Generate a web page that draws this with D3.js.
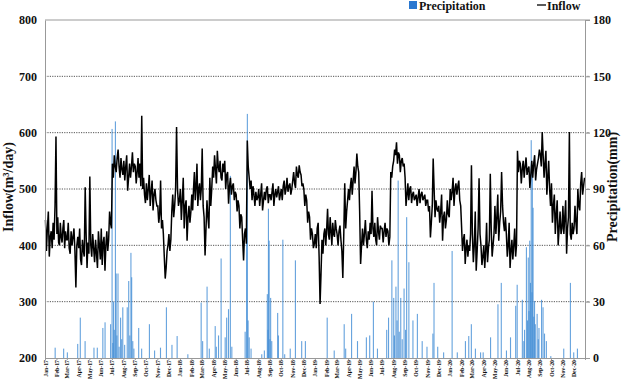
<!DOCTYPE html>
<html>
<head>
<meta charset="utf-8">
<script src="https://cdn.jsdelivr.net/npm/d3@7"></script>
<style>
  body { margin: 0; background: #fff; }
  text { font-family: "Liberation Serif", "Times New Roman", serif; font-weight: bold; }
</style>
</head>
<body>
<svg id="chart" width="627" height="379"></svg>
<script>
// ---- data ----
const inflowTicks = [200, 300, 400, 500, 600, 700, 800];
const precipTicks = [0, 30, 60, 90, 120, 150, 180];

// inflow samples, 12 per month (m3/day)
const inflow2017 = [
  [445, 390, 430, 460, 380, 415, 425, 395, 440, 410, 470, 593],
  [420, 450, 405, 400, 440, 415, 405, 430, 445, 395, 425, 410],
  [410, 440, 395, 385, 425, 400, 415, 430, 390, 325, 400, 415],
  [395, 430, 375, 365, 410, 390, 380, 503, 420, 360, 405, 385],
  [522, 400, 380, 420, 395, 370, 410, 385, 360, 425, 400, 375],
  [430, 365, 405, 415, 355, 400, 425, 390, 410, 460, 440, 430],
  [545, 520, 560, 540, 530, 555, 570, 540, 520, 555, 535, 525],
  [550, 515, 540, 560, 497, 520, 545, 520, 540, 565, 530, 545],
  [540, 510, 530, 555, 520, 545, 505, 630, 500, 520, 490, 475],
  [510, 480, 500, 525, 470, 495, 515, 462, 490, 500, 480, 470],
  [470, 440, 455, 515, 430, 445, 420, 380, 341, 360, 390, 400],
  [420, 390, 410, 460, 490, 450, 470, 500, 610, 500, 470, 480]
];
const inflow2018 = [
  [500, 445, 480, 520, 430, 470, 480, 408, 450, 470, 440, 460],
  [490, 462, 500, 530, 480, 505, 545, 470, 500, 510, 480, 500],
  [572, 470, 450, 382, 430, 480, 450, 430, 520, 470, 500, 540],
  [520, 560, 535, 510, 568, 540, 530, 550, 520, 515, 545, 530],
  [550, 500, 525, 530, 474, 505, 520, 490, 505, 510, 480, 495],
  [490, 460, 480, 470, 430, 455, 450, 410, 373, 420, 430, 403],
  [586, 540, 520, 500, 515, 480, 505, 490, 470, 495, 480, 485],
  [500, 470, 490, 510, 462, 480, 495, 480, 500, 505, 475, 490],
  [490, 480, 495, 510, 470, 490, 500, 485, 495, 505, 480, 490],
  [500, 480, 505, 515, 490, 500, 520, 495, 505, 510, 490, 500],
  [515, 530, 510, 502, 540, 525, 520, 542, 530, 525, 505, 510],
  [500, 470, 490, 480, 440, 460, 450, 410, 430, 420, 395, 403]
];
const inflow2019 = [
  [420, 395, 430, 440, 380, 296, 350, 410, 385, 420, 430, 400],
  [430, 465, 420, 410, 450, 425, 400, 440, 420, 415, 445, 430],
  [420, 400, 425, 435, 410, 390, 342, 420, 510, 430, 460, 480],
  [500, 480, 505, 520, 490, 515, 540, 510, 530, 563, 540, 530],
  [460, 367, 400, 430, 400, 420, 445, 410, 395, 425, 410, 440],
  [420, 497, 430, 415, 440, 410, 400, 450, 425, 410, 435, 430],
  [430, 405, 425, 440, 415, 430, 425, 400, 415, 530, 520, 540],
  [550, 570, 560, 583, 545, 565, 560, 530, 550, 555, 540, 545],
  [520, 470, 490, 510, 480, 500, 505, 475, 490, 495, 480, 485],
  [490, 470, 485, 500, 475, 490, 495, 480, 485, 490, 470, 480],
  [480, 460, 470, 414, 440, 470, 554, 500, 450, 480, 465, 460],
  [470, 440, 460, 490, 408, 450, 460, 430, 445, 480, 455, 450]
];
const inflow2020 = [
  [500, 480, 495, 520, 470, 500, 510, 490, 505, 515, 480, 470],
  [431, 390, 410, 420, 367, 395, 410, 380, 400, 390, 420, 542],
  [420, 370, 400, 460, 355, 390, 430, 519, 420, 400, 365, 380],
  [400, 360, 390, 440, 370, 395, 410, 527, 430, 380, 400, 420],
  [470, 420, 450, 490, 408, 440, 460, 530, 470, 440, 425, 450],
  [420, 380, 400, 440, 360, 390, 410, 375, 400, 430, 380, 400],
  [568, 530, 550, 545, 510, 535, 550, 520, 540, 556, 525, 535],
  [540, 502, 525, 550, 520, 545, 560, 515, 535, 545, 555, 570],
  [560, 540, 601, 560, 520, 545, 568, 490, 520, 550, 500, 470],
  [510, 440, 470, 490, 420, 455, 480, 400, 430, 460, 420, 430],
  [470, 420, 450, 480, 385, 430, 450, 601, 420, 410, 440, 420],
  [430, 470, 440, 420, 500, 470, 462, 510, 530, 490, 505, 520]
];

// daily precipitation events (mm)
const precipDates = [
  "2017-01-27","2017-02-19","2017-03-01","2017-03-29","2017-04-05","2017-04-18","2017-05-12","2017-05-21",
  "2017-06-05","2017-06-11","2017-06-26","2017-06-30","2017-07-02","2017-07-04","2017-07-06","2017-07-09",
  "2017-07-11","2017-07-13","2017-07-16","2017-07-19","2017-07-23","2017-07-26","2017-07-29","2017-08-03",
  "2017-08-10","2017-08-14","2017-08-17","2017-08-20","2017-08-22","2017-08-25","2017-08-28","2017-09-10",
  "2017-09-18","2017-10-09","2017-10-23","2017-11-08","2017-11-24","2017-12-09","2017-12-23",
  "2018-01-21","2018-02-26","2018-03-02","2018-03-14","2018-03-20","2018-04-05","2018-04-08","2018-04-14",
  "2018-04-21","2018-05-02","2018-05-06","2018-05-11","2018-05-16","2018-05-20","2018-06-25","2018-06-29",
  "2018-07-01","2018-07-03","2018-07-06","2018-07-11","2018-08-09","2018-08-16","2018-08-24","2018-08-26",
  "2018-08-27","2018-08-29","2018-08-31","2018-09-02","2018-09-05","2018-09-21","2018-09-23","2018-10-05",
  "2018-10-10","2018-10-25","2018-11-08","2018-11-25","2018-12-05",
  "2019-02-02","2019-02-21","2019-03-20","2019-03-24","2019-04-09","2019-04-25","2019-05-19","2019-05-28",
  "2019-06-07","2019-06-18","2019-07-13","2019-07-18","2019-07-27","2019-08-01","2019-08-03","2019-08-07",
  "2019-08-10","2019-08-13","2019-08-16","2019-08-20","2019-08-24","2019-08-29","2019-09-02","2019-09-05",
  "2019-09-11","2019-09-22","2019-10-04","2019-10-17","2019-10-30","2019-11-15","2019-11-18","2019-11-28",
  "2019-12-14",
  "2020-01-06","2020-01-20","2020-02-11","2020-02-20","2020-02-27","2020-03-09","2020-03-23","2020-03-30",
  "2020-04-19","2020-05-09","2020-05-18","2020-06-01","2020-06-12","2020-06-26","2020-06-30","2020-07-14",
  "2020-07-18","2020-07-20","2020-07-25","2020-07-28","2020-07-30","2020-08-01","2020-08-03","2020-08-05",
  "2020-08-07","2020-08-09","2020-08-10","2020-08-12","2020-08-14","2020-08-16","2020-08-18","2020-08-23",
  "2020-08-26","2020-08-28","2020-09-04","2020-09-08","2020-09-12","2020-09-17","2020-09-29","2020-11-03",
  "2020-11-21","2020-11-30","2020-12-10"
];
const precipMm = [
  5.5, 5, 3, 7.5, 21.5, 9, 5.5, 5.5,
  16, 19, 18, 122, 8, 30, 15, 126,
  45, 12, 45, 6, 21.5, 10, 27, 7,
  27, 41, 12, 56, 43, 9, 5, 16,
  5, 18, 4, 5.5, 27, 7, 11.7,
  2, 29.5, 9, 38, 5, 17, 6, 12,
  53, 11, 21.5, 26, 97, 6, 14, 64,
  130, 20, 11, 5, 2, 4, 34, 15,
  79.5, 62.5, 10, 32, 9, 24, 12, 63,
  2, 5, 52, 9, 9,
  21.5, 4, 18, 5, 23.5, 9, 11, 12,
  30, 5, 15, 21.5, 52, 32, 12, 38,
  20, 94.5, 14, 32, 10, 37, 15, 75,
  51, 20, 23.5, 9, 6, 13, 40, 6,
  3,
  57, 3, 9, 11.7, 18, 5, 3, 3,
  11, 28.6, 40, 4, 11, 27.8, 39, 31,
  9, 15, 59, 20, 53.5, 25, 62.5, 40,
  116, 35, 100, 80, 22, 30.4, 18, 23.5,
  10, 16, 31, 27, 13, 9, 1, 5,
  40, 3, 5
];

// ---- build series ----
const parseDay = d3.timeParse("%Y-%m-%d");
const inflowPoints = [];
[[2017, inflow2017], [2018, inflow2018], [2019, inflow2019], [2020, inflow2020]].forEach(([year, months]) => {
  months.forEach((vals, m) => {
    const start = new Date(year, m, 1), end = new Date(year, m + 1, 1);
    const step = (end - start) / vals.length;
    vals.forEach((v, i) => inflowPoints.push({date: new Date(+start + (i + 0.5) * step), v: v}));
  });
});
const precip = precipDates.map((d, i) => ({date: parseDay(d), v: precipMm[i]}));

// ---- layout ----
const plotLeft = 45, plotRight = 585, plotTop = 20, plotBottom = 358;
const svg = d3.select("#chart");

const startDate = new Date(2017, 0, 1), endDate = new Date(2021, 0, 1);
const x = d3.scaleTime().domain([startDate, endDate]).range([plotLeft, plotRight]);
const yL = d3.scaleLinear().domain([200, 800]).range([plotBottom, plotTop]);
const yR = d3.scaleLinear().domain([0, 180]).range([plotBottom, plotTop]);

// gridlines
svg.append("g").selectAll("line")
  .data(inflowTicks.filter(t => t > 200))
  .enter().append("line")
  .attr("x1", plotLeft).attr("x2", plotRight + 5)
  .attr("y1", d => yL(d)).attr("y2", d => yL(d))
  .attr("stroke", d => d === 800 ? "#999" : "#555")
  .attr("stroke-dasharray", d => d === 800 ? null : "1.2,1.2")
  .attr("stroke-width", 1);

// precipitation bars
svg.append("g").selectAll("rect")
  .data(precip)
  .enter().append("rect")
  .attr("x", d => x(d.date))
  .attr("width", 1.1)
  .attr("y", d => yR(d.v))
  .attr("height", d => plotBottom - yR(d.v))
  .attr("fill", "#3f8bd4")
  .attr("opacity", 0.8);

// inflow line
svg.append("path")
  .datum(inflowPoints)
  .attr("fill", "none")
  .attr("stroke", "#000")
  .attr("stroke-width", 1.5)
  .attr("stroke-linejoin", "miter")
  .attr("d", d3.line().x(d => x(d.date)).y(d => yL(d.v)));

// axes
const monthTicks = d3.timeMonth.range(startDate, endDate);
const axL = svg.append("g").attr("transform", `translate(${plotLeft},0)`)
  .call(d3.axisLeft(yL).tickValues(inflowTicks).tickSize(0).tickPadding(8));
const axR = svg.append("g").attr("transform", `translate(${plotRight},0)`)
  .call(d3.axisRight(yR).tickValues(precipTicks).tickSize(5).tickPadding(3));
const axB = svg.append("g").attr("transform", `translate(0,${plotBottom})`)
  .call(d3.axisBottom(x).tickValues(monthTicks).tickFormat(d3.timeFormat("%b-%y")).tickSize(2));

[axL, axR, axB].forEach(a => {
  a.select(".domain").attr("stroke", "#999");
  a.selectAll(".tick line").attr("stroke", "#999");
});
axL.selectAll("text").attr("font-size", 12).attr("fill", "#111");
axR.selectAll("text").attr("font-size", 12).attr("fill", "#111");
axB.selectAll("text")
  .attr("font-size", 5.8).attr("fill", "#111")
  .attr("transform", "rotate(-90)")
  .attr("text-anchor", "end")
  .attr("x", -2).attr("y", 0).attr("dy", "0.35em");

// axis titles
svg.append("text")
  .attr("transform", "translate(13,187) rotate(-90)")
  .attr("text-anchor", "middle").attr("font-size", 14).attr("fill", "#111")
  .text("Inflow(m³/day)");
svg.append("text")
  .attr("transform", "translate(617,187) rotate(-90)")
  .attr("text-anchor", "middle").attr("font-size", 14).attr("fill", "#111")
  .text("Precipitation(mm)");

// legend
const legend = svg.append("g");
legend.append("rect").attr("x", 409).attr("y", 1).attr("width", 8).attr("height", 8).attr("fill", "#2a78d0");
legend.append("text").attr("x", 419).attr("y", 10).attr("font-size", 12).attr("fill", "#111").text("Precipitation");
legend.append("line").attr("x1", 537).attr("x2", 546).attr("y1", 5).attr("y2", 5).attr("stroke", "#000").attr("stroke-width", 1.3);
legend.append("text").attr("x", 547).attr("y", 10).attr("font-size", 12).attr("fill", "#111").text("Inflow");
</script>
</body>
</html>
